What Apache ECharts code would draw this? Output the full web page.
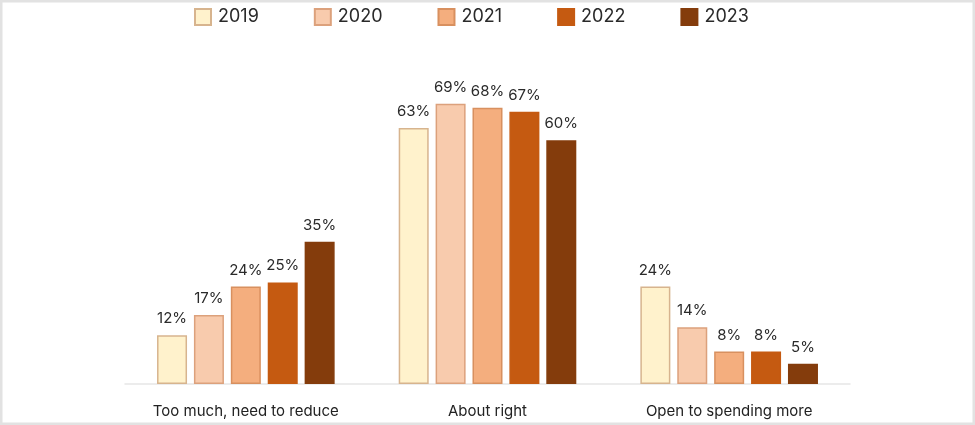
<!DOCTYPE html>
<html>
<head>
<meta charset="utf-8">
<script src="https://cdn.jsdelivr.net/npm/echarts@6/dist/echarts.min.js"></script>
<style>
html,body{margin:0;padding:0;background:#fff;}
#chart{width:975px;height:425px;}
</style>
</head>
<body>
<div id="chart"></div>
<script>
const categories = ["Too much, need to reduce", "About right", "Open to spending more"];
const years = ["2019", "2020", "2021", "2022", "2023"];
const v2019 = [12, 63, 24];
const v2020 = [17, 69, 14];
const v2021 = [24, 68, 8];
const v2022 = [25, 67, 8];
const v2023 = [35, 60, 5];
const seriesValues = [v2019, v2020, v2021, v2022, v2023];
const fills = ["#FFF2CC", "#F8CBAD", "#F4AE7E", "#C55A11", "#843C0C"];
const borders = ["#D7B48E", "#DCA17C", "#D8905F", "#C55A11", "#843C0C"];

const font = "Inter, 'Open Sans', sans-serif";
const chart = echarts.init(document.getElementById('chart'), null, {renderer: 'canvas'});
chart.setOption({
  animation: false,
  backgroundColor: '#ffffff',
  textStyle: {fontFamily: font},
  graphic: [{
    type: 'rect', silent: true, z: 100,
    shape: {x: 1, y: 1, width: 973, height: 423},
    style: {fill: 'none', stroke: '#E2E2E2', lineWidth: 3}
  }],
  legend: {
    top: 8, left: 194, padding: 0,
    itemWidth: 16, itemHeight: 16, itemGap: 55,
    textStyle: {fontSize: 18, color: '#2a2a2a', fontFamily: font, padding: [0, 0, 0, 2]},
    data: years.map((y, i) => ({name: y, icon: 'rect'}))
  },
  grid: {left: 125, right: 125, top: 59, bottom: 41},
  xAxis: {
    type: 'category', data: categories,
    axisLine: {show: true, lineStyle: {color: '#E6E6E6', width: 1.5}},
    axisTick: {show: false},
    axisLabel: {interval: 0, fontSize: 15, color: '#222', margin: 20, fontFamily: font}
  },
  yAxis: {type: 'value', min: 0, max: 80, show: false, splitLine: {show: false}},
  series: years.map((y, i) => ({
    name: y, type: 'bar', data: seriesValues[i],
    barWidth: 30, barGap: '23%',
    itemStyle: {color: fills[i], borderColor: borders[i], borderWidth: 1.5},
    label: {show: true, position: 'top', distance: 9, formatter: '{c}%', fontSize: 15, color: '#2a2a2a', fontFamily: font}
  }))
});
</script>
</body>
</html>
